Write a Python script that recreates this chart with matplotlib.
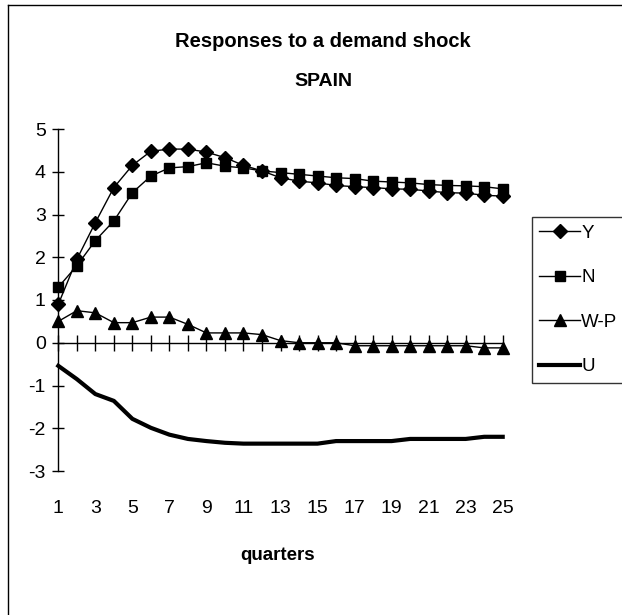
import matplotlib
matplotlib.use('Agg')
import matplotlib.pyplot as plt
from matplotlib.lines import Line2D

plt.rcParams['font.family'] = ['Liberation Sans', 'DejaVu Sans']
plt.rcParams['axes.unicode_minus'] = False

# quarters after the shock
quarters = list(range(1, 26))

# responses
y_resp = [0.9, 1.95, 2.81, 3.63, 4.15, 4.48, 4.53, 4.53, 4.46, 4.33, 4.15, 4.02, 3.86,
          3.78, 3.74, 3.68, 3.65, 3.63, 3.6, 3.59, 3.55, 3.51, 3.5, 3.45, 3.43]
n_resp = [1.3, 1.8, 2.39, 2.85, 3.51, 3.9, 4.09, 4.12, 4.21, 4.13, 4.09, 4.02, 3.98,
          3.94, 3.9, 3.86, 3.84, 3.78, 3.76, 3.74, 3.7, 3.68, 3.67, 3.65, 3.6]
wp_resp = [0.5, 0.75, 0.7, 0.47, 0.47, 0.6, 0.6, 0.43, 0.23, 0.23, 0.23, 0.19, 0.05,
           0.0, 0.0, 0.0, -0.07, -0.07, -0.07, -0.07, -0.07, -0.07, -0.07, -0.12, -0.12]
u_resp = [-0.54, -0.85, -1.2, -1.36, -1.78, -1.99, -2.15, -2.25, -2.3, -2.34, -2.36, -2.36, -2.36,
          -2.36, -2.36, -2.3, -2.3, -2.3, -2.3, -2.25, -2.25, -2.25, -2.25, -2.2, -2.2]

x_labels = list(range(1, 26, 2))
y_ticks = list(range(-3, 6))

fig = plt.figure(figsize=(6.22, 6.15), dpi=100)
ax = fig.add_axes([58.3 / 622, 1 - 471 / 615, (502.7 - 58.3) / 622, (471 - 129) / 615])

ax.plot(quarters, y_resp, color='black', lw=1, marker='D', ms=7.5, label='Y', clip_on=False)
ax.plot(quarters, n_resp, color='black', lw=1, marker='s', ms=7, label='N', clip_on=False)
ax.plot(quarters, wp_resp, color='black', lw=1, marker='^', ms=8, label='W-P', clip_on=False)
ax.plot(quarters, u_resp, color='black', lw=3, label='U', clip_on=False)

ax.set_xlim(1, 25)
ax.set_ylim(-3, 5)

# x axis runs through zero, labels sit under the plot
ax.spines['bottom'].set_position(('data', 0))
ax.spines['top'].set_visible(False)
ax.spines['right'].set_visible(False)
ax.spines['left'].set_linewidth(1)
ax.spines['bottom'].set_linewidth(1)
ax.set_xticks(quarters)
ax.tick_params(axis='x', direction='inout', length=11, width=1, labelbottom=False)
ax.set_yticks(y_ticks)
ax.tick_params(axis='y', direction='inout', length=8, width=1, labelsize=14, pad=5)

sec = ax.secondary_xaxis(0)
sec.set_xticks(x_labels)
sec.spines['bottom'].set_visible(False)
sec.tick_params(length=0, labelsize=14, pad=21)

fig.text(323 / 622, 1 - 41.7 / 615, 'Responses to a demand shock', ha='center', va='center',
         fontsize=14.5, fontweight='bold')
fig.text(323 / 622, 1 - 81.7 / 615, 'SPAIN', ha='center', va='center',
         fontsize=14, fontweight='bold')
fig.text(278 / 622, 1 - 555 / 615, 'quarters', ha='center', va='center',
         fontsize=13.5, fontweight='bold')

leg = fig.legend(loc='upper left', bbox_to_anchor=(531.7 / 622, 1 - 217 / 615),
                 fontsize=13.5, frameon=True, fancybox=False, edgecolor='black',
                 handlelength=2.2, handletextpad=0.05, labelspacing=1.46,
                 borderpad=0.4, borderaxespad=0)
leg.get_frame().set_linewidth(1)

# chart area border (left and top edges visible)
fig.add_artist(Line2D([8.3 / 622, 8.3 / 622], [0, 1 - 5 / 615], color='black', lw=1))
fig.add_artist(Line2D([8.3 / 622, 1], [1 - 5 / 615, 1 - 5 / 615], color='black', lw=1))

fig.savefig('out.png', dpi=100)
